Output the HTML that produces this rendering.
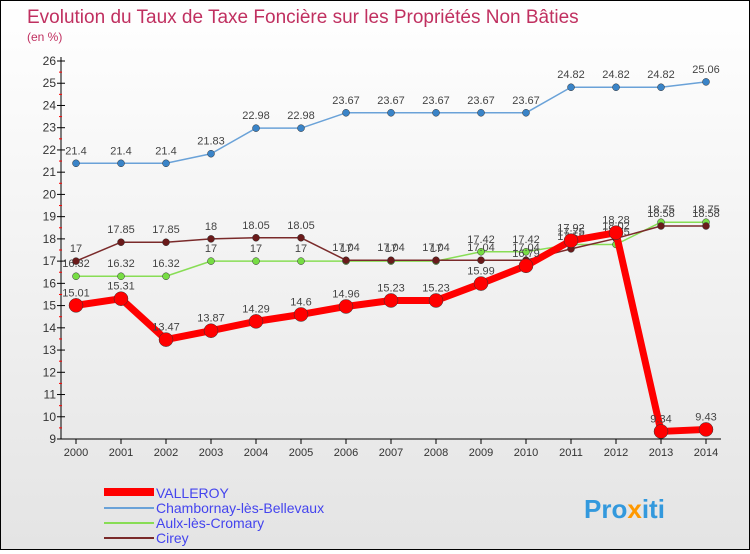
<!DOCTYPE html>
<html><head><meta charset="utf-8"><style>
html,body{margin:0;padding:0;}
body{width:750px;height:550px;overflow:hidden;font-family:"Liberation Sans",sans-serif;}
#wrap{position:relative;width:748px;height:548px;border:1px solid #000;background:linear-gradient(#fff,#e4e4e4);}
text{font-family:"Liberation Sans",sans-serif;}
</style></head><body>
<div id="wrap">
<svg id="chart" width="748" height="548">
<text x="26" y="22" font-size="19" fill="#c03060">Evolution du Taux de Taxe Foncière sur les Propriétés Non Bâties</text>
<text x="26" y="40" font-size="12" fill="#c03060">(en %)</text>
<g id="axes"></g><g id="series"></g>
<g>
<rect x="103" y="487" width="50" height="8" fill="#ff0000"/>
<text x="155" y="497" font-size="14" fill="#4444ee">VALLEROY</text>
<rect x="103" y="506" width="50" height="2" fill="#6aa2d8"/>
<text x="155" y="512" font-size="14" fill="#4444ee">Chambornay-lès-Bellevaux</text>
<rect x="103" y="521" width="50" height="2" fill="#88dd55"/>
<text x="155" y="527" font-size="14" fill="#4444ee">Aulx-lès-Cromary</text>
<rect x="103" y="536" width="50" height="2" fill="#7a2a2a"/>
<text x="155" y="542" font-size="14" fill="#4444ee">Cirey</text>
</g>
<text x="583" y="517" font-size="26" font-weight="bold" fill="#3399dd">Pro<tspan fill="#ff9900">x</tspan>iti</text>
</svg></div>
<script>
const years=[2000,2001,2002,2003,2004,2005,2006,2007,2008,2009,2010,2011,2012,2013,2014];
const valleroy=[15.01,15.31,13.47,13.87,14.29,14.6,14.96,15.23,15.23,15.99,16.79,17.92,18.28,9.34,9.43];
const chambornay=[21.4,21.4,21.4,21.83,22.98,22.98,23.67,23.67,23.67,23.67,23.67,24.82,24.82,24.82,25.06];
const aulx=[16.32,16.32,16.32,17,17,17,17,17,17,17.42,17.42,17.75,17.75,18.75,18.75];
const cirey=[17,17.85,17.85,18,18.05,18.05,17.04,17.04,17.04,17.04,17.04,17.55,18.02,18.58,18.58];
const yTicks=[9,10,11,12,13,14,15,16,17,18,19,20,21,22,23,24,25,26];
const NS="http://www.w3.org/2000/svg";
const X=i=>75+i*45;
const Y=v=>438-(v-9)*(378/17);
function mk(t,a,p){const e=document.createElementNS(NS,t);for(const k in a)e.setAttribute(k,a[k]);p.appendChild(e);return e;}
const ax=document.getElementById('axes');
mk('line',{x1:60,y1:56,x2:60,y2:438,stroke:'#000'},ax);
mk('line',{x1:60,y1:438,x2:720,y2:438,stroke:'#000'},ax);
yTicks.forEach(v=>{
 const l=mk('line',{x1:56,y1:Y(v),x2:64,y2:Y(v),stroke:'#000'},ax);
 
 
 if(v<26){const m=mk('line',{x1:58,y1:Y(v+0.5),x2:61,y2:Y(v+0.5),stroke:'#ff0000'},ax);
 
 }
 const t=mk('text',{x:55,y:Y(v)+4,'font-size':12,'text-anchor':'end',fill:'#333'},ax);t.textContent=v;
 
 
});
years.forEach((yr,i)=>{
 mk('line',{x1:X(i),y1:438,x2:X(i),y2:443,stroke:'#000'},ax);
 const t=mk('text',{x:X(i),y:455,'font-size':11,'text-anchor':'middle',fill:'#333'},ax);t.textContent=yr;
 
 
});
const sg=document.getElementById('series');
function series(name,data,color,w,r,dot){
 const g=mk('g',{},sg);
 
 
 const pl=mk('polyline',{points:data.map((v,i)=>X(i)+','+Y(v)).join(' '),fill:'none',stroke:color,'stroke-width':w,'stroke-linejoin':'round'},g);
 
 
 data.forEach((v,i)=>{
  const c=mk('circle',{cx:X(i),cy:Y(v),r:r,fill:dot,stroke:'#333','stroke-width':0.5},g);
  
  
  const t=mk('text',{x:X(i),y:Y(v)-9,'font-size':11,'text-anchor':'middle',fill:'#444'},g);t.textContent=v;
  
  
 });
}
series('chambornay',chambornay,'#6aa2d8',1.5,3.5,'#3a84c8');
series('aulx',aulx,'#88dd55',1.5,3.5,'#77dd44');
series('cirey',cirey,'#7a2a2a',1.5,3.5,'#6a1a1a');
series('valleroy',valleroy,'#ff0000',7,7,'#ff0000');
</script>
</body></html>
